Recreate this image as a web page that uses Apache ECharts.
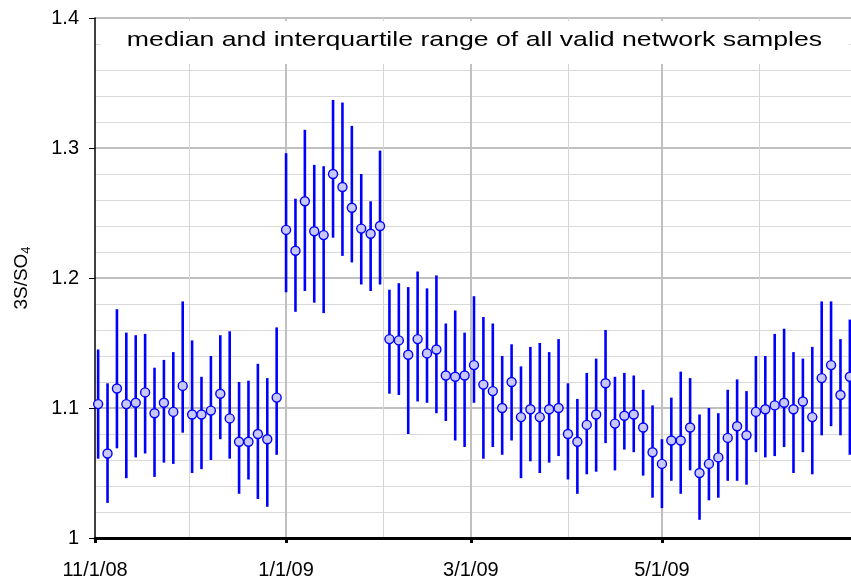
<!DOCTYPE html>
<html>
<head>
<meta charset="utf-8">
<script src="https://cdn.jsdelivr.net/npm/echarts@6/dist/echarts.min.js"></script>
<style>
  html, body { margin: 0; padding: 0; background: #fff; }
  #chart { width: 851px; height: 582px; }
</style>
</head>
<body>
<div id="chart"></div>
<script>
// sample dates (every 3rd day), median and quartiles
const dates = [
  '2008-11-02', '2008-11-05', '2008-11-08', '2008-11-11', '2008-11-14', '2008-11-17', '2008-11-20', '2008-11-23', '2008-11-26', '2008-11-29',
  '2008-12-02', '2008-12-05', '2008-12-08', '2008-12-11', '2008-12-14', '2008-12-17', '2008-12-20', '2008-12-23', '2008-12-26', '2008-12-29',
  '2009-01-01', '2009-01-04', '2009-01-07', '2009-01-10', '2009-01-13', '2009-01-16', '2009-01-19', '2009-01-22', '2009-01-25', '2009-01-28',
  '2009-01-31', '2009-02-03', '2009-02-06', '2009-02-09', '2009-02-12', '2009-02-15', '2009-02-18', '2009-02-21', '2009-02-24', '2009-02-27',
  '2009-03-02', '2009-03-05', '2009-03-08', '2009-03-11', '2009-03-14', '2009-03-17', '2009-03-20', '2009-03-23', '2009-03-26', '2009-03-29',
  '2009-04-01', '2009-04-04', '2009-04-07', '2009-04-10', '2009-04-13', '2009-04-16', '2009-04-19', '2009-04-22', '2009-04-25', '2009-04-28',
  '2009-05-01', '2009-05-04', '2009-05-07', '2009-05-10', '2009-05-13', '2009-05-16', '2009-05-19', '2009-05-22', '2009-05-25', '2009-05-28',
  '2009-05-31', '2009-06-03', '2009-06-06', '2009-06-09', '2009-06-12', '2009-06-15', '2009-06-18', '2009-06-21', '2009-06-24', '2009-06-27',
  '2009-06-30'
];
const medians = [
  1.103, 1.065, 1.115, 1.103, 1.104, 1.112, 1.096, 1.104, 1.097, 1.117,
  1.095, 1.095, 1.098, 1.111, 1.092, 1.074, 1.074, 1.080, 1.076, 1.108,
  1.237, 1.221, 1.259, 1.236, 1.233, 1.280, 1.270, 1.254, 1.238, 1.234,
  1.240, 1.153, 1.152, 1.141, 1.153, 1.142, 1.145, 1.125, 1.124, 1.125,
  1.133, 1.118, 1.113, 1.100, 1.120, 1.093, 1.099, 1.093, 1.099, 1.100,
  1.080, 1.074, 1.087, 1.095, 1.119, 1.088, 1.094, 1.095, 1.085, 1.066,
  1.057, 1.075, 1.075, 1.085, 1.050, 1.057, 1.062, 1.077, 1.086, 1.079,
  1.097, 1.099, 1.102, 1.104, 1.099, 1.105, 1.093, 1.123, 1.133, 1.110,
  1.124
];
const q1 = [
  1.061, 1.027, 1.069, 1.046, 1.062, 1.065, 1.047, 1.058, 1.057, 1.081,
  1.050, 1.053, 1.060, 1.076, 1.061, 1.034, 1.045, 1.030, 1.024, 1.064,
  1.189, 1.174, 1.190, 1.181, 1.173, 1.231, 1.217, 1.212, 1.195, 1.190,
  1.195, 1.111, 1.110, 1.080, 1.105, 1.104, 1.096, 1.090, 1.075, 1.070,
  1.104, 1.061, 1.070, 1.064, 1.075, 1.046, 1.059, 1.050, 1.058, 1.063,
  1.045, 1.034, 1.049, 1.051, 1.073, 1.052, 1.068, 1.066, 1.048, 1.031,
  1.023, 1.044, 1.034, 1.052, 1.014, 1.029, 1.031, 1.044, 1.044, 1.041,
  1.066, 1.062, 1.063, 1.070, 1.050, 1.066, 1.049, 1.079, 1.086, 1.079,
  1.064
];
const q3 = [
  1.145, 1.119, 1.176, 1.158, 1.156, 1.157, 1.131, 1.137, 1.143, 1.182,
  1.152, 1.124, 1.140, 1.156, 1.159, 1.120, 1.121, 1.134, 1.123, 1.162,
  1.296, 1.261, 1.314, 1.287, 1.286, 1.337, 1.335, 1.317, 1.280, 1.259,
  1.298, 1.191, 1.196, 1.193, 1.205, 1.192, 1.202, 1.165, 1.175, 1.158,
  1.186, 1.170, 1.165, 1.140, 1.149, 1.132, 1.147, 1.150, 1.143, 1.153,
  1.119, 1.107, 1.127, 1.138, 1.160, 1.124, 1.127, 1.125, 1.114, 1.102,
  1.076, 1.108, 1.128, 1.123, 1.095, 1.100, 1.096, 1.114, 1.122, 1.113,
  1.140, 1.140, 1.157, 1.161, 1.143, 1.138, 1.147, 1.182, 1.182, 1.153,
  1.168
];
const xTickDates = ['2008-11-01', '2009-01-01', '2009-03-01', '2009-05-01'];
const majorGridDates = ['2009-01-01', '2009-03-01', '2009-05-01'];
const minorGridDates = ['2008-12-01', '2009-02-01', '2009-04-01', '2009-06-01'];
const xMin = '2008-11-01';
const xMax = '2009-07-01';
const titleText = 'median and interquartile range of all valid network samples';

function toTime(s) {
  const p = s.split('-').map(Number);
  return new Date(p[0], p[1] - 1, p[2]).getTime();
}

const font = '"Liberation Sans", Arial, sans-serif';
const chart = echarts.init(document.getElementById('chart'));

const gridLines = [];
minorGridDates.forEach(d => {
  gridLines.push({ xAxis: toTime(d), lineStyle: { color: '#d4d4d4', width: 1, type: 'solid' } });
});
majorGridDates.forEach(d => {
  gridLines.push({ xAxis: toTime(d), lineStyle: { color: '#c0c0c0', width: 2, type: 'solid' } });
});

chart.setOption({
  animation: false,
  grid: {
    left: 95,
    top: 18,
    width: 758,
    height: 520,
    outerBoundsMode: 'none'
  },
  xAxis: {
    // dates kept as timestamps on a value axis so the tick dates can be given directly
    type: 'value',
    z: 5,
    min: toTime(xMin),
    max: toTime(xMax),
    axisLine: { show: true, onZero: false, lineStyle: { color: '#000', width: 3 } },
    axisTick: {
      show: true,
      inside: false,
      length: 5,
      customValues: xTickDates.map(toTime),
      lineStyle: { color: '#000', width: 3 }
    },
    axisLabel: {
      customValues: xTickDates.map(toTime),
      margin: 22,
      color: '#000',
      fontSize: 20,
      fontFamily: font,
      formatter: function (v) {
        const d = new Date(v);
        return (d.getMonth() + 1) + '/' + d.getDate() + '/' + String(d.getFullYear()).slice(2);
      }
    },
    splitLine: { show: false }
  },
  yAxis: {
    type: 'value',
    min: 1,
    max: 1.4,
    interval: 0.1,
    name: '3S/SO{sub|4}',
    nameLocation: 'middle',
    nameRotate: 90,
    nameGap: 62,
    nameTextStyle: {
      color: '#000',
      fontSize: 19,
      fontFamily: font,
      rich: {
        sub: { fontSize: 13, fontFamily: font, color: '#000', verticalAlign: 'bottom', padding: [9, 0, 0, 0] }
      }
    },
    axisLine: { show: true, lineStyle: { color: '#000', width: 1.5 } },
    axisTick: { show: true, inside: false, length: 6, lineStyle: { color: '#000', width: 1 } },
    axisLabel: { margin: 16, color: '#000', fontSize: 20, fontFamily: font },
    splitLine: { show: true, lineStyle: { color: '#c0c0c0', width: 2 } },
    minorTick: { show: false, splitNumber: 5 },
    minorSplitLine: { show: true, lineStyle: { color: '#d9d9d9', width: 1 } }
  },
  graphic: [
    {
      type: 'rect',
      z: 100,
      shape: { x: 101, y: 21, width: 748, height: 43 },
      style: { fill: '#fff' }
    },
    {
      type: 'text',
      z: 101,
      x: 474.5,
      y: 40,
      scaleX: 1.27,
      style: {
        text: titleText,
        font: '21px ' + font,
        fill: '#000',
        textAlign: 'center',
        textVerticalAlign: 'middle'
      }
    }
  ],
  series: [
    {
      type: 'line',
      z: 1,
      data: [],
      markLine: {
        z: 1,
        silent: true,
        symbol: 'none',
        label: { show: false },
        emphasis: { disabled: true },
        data: gridLines
      }
    },
    {
      type: 'custom',
      z: 2,
      encode: { x: 0, y: [1, 2] },
      data: dates.map((d, i) => [toTime(d), q1[i], q3[i]]),
      renderItem: function (params, api) {
        const lo = api.coord([api.value(0), api.value(1)]);
        const hi = api.coord([api.value(0), api.value(2)]);
        return {
          type: 'line',
          shape: { x1: lo[0], y1: lo[1], x2: hi[0], y2: hi[1] },
          style: { stroke: '#0000ff', lineWidth: 2.6 }
        };
      }
    },
    {
      type: 'scatter',
      z: 3,
      symbol: 'circle',
      symbolSize: 9,
      itemStyle: { color: '#c8c8ff', borderColor: '#0000ff', borderWidth: 1.4, opacity: 1 },
      data: dates.map((d, i) => [toTime(d), medians[i]])
    }
  ]
});
</script>
</body>
</html>
